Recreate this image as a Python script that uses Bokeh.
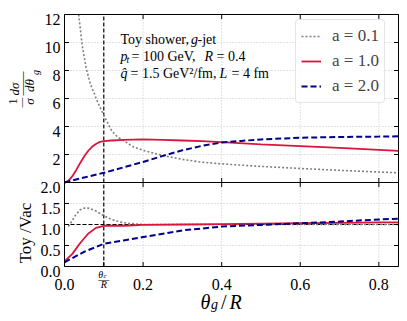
import numpy as np
from bokeh.plotting import figure
from bokeh.models import Range1d, Label, Legend, LegendItem
from bokeh.embed import file_html
from bokeh.resources import INLINE

# ---------------- data ----------------
# top panel: 1/sigma dsigma/dtheta_g
x_a01 = [0.036, 0.045, 0.055, 0.065, 0.075, 0.085, 0.10, 0.12, 0.135, 0.15, 0.175,
         0.20, 0.25, 0.30, 0.35, 0.40, 0.50, 0.60, 0.70, 0.80, 0.85]
y_a01 = [12.0, 9.8, 8.2, 7.1, 6.4, 5.7, 4.8, 3.7, 3.25, 3.0, 2.55,
         2.3, 1.93, 1.65, 1.45, 1.33, 1.15, 1.0, 0.87, 0.75, 0.69]

x_a10 = [0.0, 0.01, 0.02, 0.03, 0.04, 0.05, 0.06, 0.07, 0.08, 0.09, 0.10, 0.12, 0.15,
         0.20, 0.25, 0.30, 0.35, 0.40, 0.50, 0.60, 0.70, 0.80, 0.85]
y_a10 = [0.0, 0.12, 0.45, 0.9, 1.4, 1.85, 2.25, 2.55, 2.75, 2.9, 2.95, 3.0, 3.05,
         3.08, 3.05, 3.0, 2.95, 2.88, 2.72, 2.6, 2.47, 2.33, 2.26]

x_a20 = [0.0, 0.02, 0.05, 0.10, 0.15, 0.20, 0.25, 0.30, 0.35, 0.40, 0.45, 0.50,
         0.60, 0.70, 0.80, 0.85]
y_a20 = [0.0, 0.15, 0.36, 0.69, 1.08, 1.47, 1.9, 2.3, 2.62, 2.85, 2.97, 3.08,
         3.2, 3.25, 3.28, 3.3]

# bottom panel: Toy / Vac ratio
rx_a01 = [0.01, 0.02, 0.03, 0.04, 0.05, 0.06, 0.07, 0.08, 0.10, 0.12, 0.14, 0.16,
          0.20, 0.30, 0.40, 0.50, 0.60, 0.70, 0.80, 0.85]
ry_a01 = [0.95, 1.1, 1.25, 1.35, 1.39, 1.39, 1.36, 1.32, 1.21, 1.12, 1.06, 1.03,
          1.0, 1.0, 1.0, 1.0, 1.0, 1.0, 1.0, 1.0]

rx_a10 = [0.0, 0.02, 0.04, 0.06, 0.08, 0.10, 0.15, 0.20, 0.30, 0.40, 0.50, 0.60,
          0.70, 0.80, 0.85]
ry_a10 = [0.12, 0.3, 0.56, 0.78, 0.92, 0.97, 0.97, 0.99, 1.0, 1.01, 1.02, 1.03,
          1.04, 1.05, 1.05]

rx_a20 = [0.0, 0.02, 0.05, 0.10, 0.15, 0.20, 0.30, 0.40, 0.50, 0.60, 0.70, 0.80, 0.85]
ry_a20 = [0.1, 0.2, 0.35, 0.54, 0.62, 0.7, 0.86, 0.95, 0.99, 1.03, 1.07, 1.12, 1.14]

labels = ["a = 0.1", "a = 1.0", "a = 2.0"]
theta_c = 0.1
x_ticks = [0.0, 0.2, 0.4, 0.6, 0.8]
x_tick_labels = ["0.0", "0.2", "0.4", "0.6", "0.8"]
top_yticks = [2, 4, 6, 8, 10, 12]
top_ytick_labels = ["2", "4", "6", "8", "10", "12"]
bot_yticks = [0.0, 0.5, 1.0, 1.5, 2.0]
bot_ytick_labels = ["0.0", "0.5", "1.0", "1.5", "2.0"]
X_LIM = (0.0, 0.85)
TOP_LIM = (0.0, 12.0)
BOT_LIM = (0.0, 2.0)

# ---------------- layout (pixels of the 407x321 page) ----------------
W, H = 405, 319
PX_L, PX_R = 64.0, 398.0        # panel left/right
PY_T, PY_M, PY_B = 14.0, 182.0, 266.0   # top, middle, bottom of panels
SX = (X_LIM[1] - X_LIM[0]) / (PX_R - PX_L)
SB = (BOT_LIM[1] - BOT_LIM[0]) / (PY_B - PY_M)
ST = (TOP_LIM[1] - TOP_LIM[0]) / (PY_M - PY_T)


def fx(px):
    return X_LIM[0] + (px - PX_L) * SX


def fy(py):        # bottom-panel units
    return BOT_LIM[0] + (PY_B - py) * SB


def fyt(py):       # top-panel units
    return TOP_LIM[0] + (PY_M - py) * ST


SERIF = "Liberation Serif"
p = figure(width=W, height=H, x_range=Range1d(fx(0), fx(W)),
           y_range=Range1d(fy(H), fy(0)), output_backend="svg", toolbar_location=None,
           min_border=0, x_axis_location=None, y_axis_location=None)
p.extra_y_ranges = {"top": Range1d(fyt(H), fyt(0))}
p.grid.visible = False
p.outline_line_color = None
p.background_fill_color = "white"
p.border_fill_color = "white"

Y_BOT_TOP = fy(PY_T)   # top of the upper panel in bottom units

# ---------------- grids ----------------
gkw = dict(line_color="#b8b8b8", line_dash="1 2", line_width=0.8)
gx = [0.2, 0.4, 0.6, 0.8]
p.segment(x0=gx, y0=[BOT_LIM[0]] * len(gx), x1=gx, y1=[Y_BOT_TOP] * len(gx), **gkw)
gyb = [0.5, 1.0, 1.5]
p.segment(x0=[X_LIM[0]] * 3, y0=gyb, x1=[X_LIM[1]] * 3, y1=gyb, **gkw)
gyt = [2, 4, 6, 8, 10]
p.segment(x0=[X_LIM[0]] * 5, y0=gyt, x1=[X_LIM[1]] * 5, y1=gyt, y_range_name="top", **gkw)

# ---------------- reference lines ----------------
p.segment(x0=[theta_c], y0=[BOT_LIM[0]], x1=[theta_c], y1=[Y_BOT_TOP],
          line_color="black", line_dash="4 2", line_width=1.2)
p.segment(x0=[X_LIM[0]], y0=[1.0], x1=[X_LIM[1]], y1=[1.0],
          line_color="black", line_dash="4 2", line_width=1.2)

# ---------------- curves ----------------
GRAY, RED, BLUE = "#808080", "#dc143c", "#00008b"
r1 = p.line(x_a01, y_a01, y_range_name="top", line_color=GRAY, line_dash="2 2", line_width=1.6)
r2 = p.line(x_a10, y_a10, y_range_name="top", line_color=RED, line_width=1.8)
r3 = p.line(x_a20, y_a20, y_range_name="top", line_color=BLUE, line_dash="6 3", line_width=2)
p.line(rx_a01, ry_a01, line_color=GRAY, line_dash="2 2", line_width=1.6)
p.line(rx_a10, ry_a10, line_color=RED, line_width=1.8)
p.line(rx_a20, ry_a20, line_color=BLUE, line_dash="6 3", line_width=2)

# ---------------- panel frames ----------------
p.quad(left=[X_LIM[0]], right=[X_LIM[1]], bottom=[BOT_LIM[0]], top=[Y_BOT_TOP],
       fill_color=None, line_color="black", line_width=1)
p.segment(x0=[X_LIM[0]], y0=[BOT_LIM[1]], x1=[X_LIM[1]], y1=[BOT_LIM[1]],
          line_color="black", line_width=1)

# ---------------- ticks (inward) ----------------
TL = 4.5
tkw = dict(line_color="black", line_width=1)
xt_b = [theta_c] + x_ticks[1:]
p.segment(x0=xt_b, y0=[BOT_LIM[0]] * len(xt_b), x1=xt_b,
          y1=[BOT_LIM[0] + TL * SB] * len(xt_b), **tkw)
xt_m = x_ticks[1:]
p.segment(x0=xt_m, y0=[BOT_LIM[1] - TL * SB] * len(xt_m), x1=xt_m,
          y1=[BOT_LIM[1] + TL * SB] * len(xt_m), **tkw)
p.segment(x0=xt_m, y0=[Y_BOT_TOP] * len(xt_m), x1=xt_m,
          y1=[Y_BOT_TOP - TL * SB] * len(xt_m), **tkw)
for xe, sgn in ((X_LIM[0], 1), (X_LIM[1], -1)):
    p.segment(x0=[xe] * len(bot_yticks), y0=bot_yticks,
              x1=[xe + sgn * TL * SX] * len(bot_yticks), y1=bot_yticks, **tkw)
    p.segment(x0=[xe] * len(top_yticks), y0=top_yticks,
              x1=[xe + sgn * TL * SX] * len(top_yticks), y1=top_yticks,
              y_range_name="top", **tkw)

# ---------------- legend ----------------
legend = Legend(items=[LegendItem(label=labels[0], renderers=[r1]),
                       LegendItem(label=labels[1], renderers=[r2]),
                       LegendItem(label=labels[2], renderers=[r3])],
                location=(295, H - 103), label_text_font=SERIF, label_text_font_size="17px",
                glyph_width=20, glyph_height=20, label_standoff=11, padding=5, spacing=3,
                label_height=22, margin=0, border_line_color="#cccccc", border_line_width=1,
                background_fill_color="white", background_fill_alpha=0.85)
if "border_radius" in Legend.properties():
    legend.border_radius = 4
p.add_layout(legend)


# ---------------- texts ----------------
def lab(px, py, text, size, style="normal", align="left", baseline="alphabetic", angle=0.0):
    p.add_layout(Label(x=fx(px), y=fy(py), text=text, text_font=SERIF,
                       text_font_size=f"{size}px", text_font_style=style,
                       text_align=align, text_baseline=baseline, angle=angle,
                       text_color="black"))


def px_of_x(x):
    return PX_L + (x - X_LIM[0]) / SX


def py_of_b(y):
    return PY_B - (y - BOT_LIM[0]) / SB


def py_of_t(y):
    return PY_M - (y - TOP_LIM[0]) / ST


TK = 16
# y tick labels
for v, t in zip(bot_yticks, bot_ytick_labels):
    lab(60, py_of_b(v) + 5.3, t, TK, align="right")
for v, t in zip(top_yticks, top_ytick_labels):
    lab(60, py_of_t(v) + 5.3, t, TK, align="right")
# x tick labels
for v, t in zip(x_ticks, x_tick_labels):
    lab(px_of_x(v), 283.5, t, TK, align="center")

# special tick label theta_c / R
xc = px_of_x(theta_c)
lab(xc - 5.5, 273.5, "\u03b8", 10, "italic")
lab(xc - 0.2, 275, "c", 7, "italic")
lab(xc, 278.2, "\u2014", 11, align="center")
lab(xc, 284, "R", 10, "italic", align="center")

# annotation block
lab(120, 39.3, "Toy shower,", 14)
lab(190.5, 39.3, "g", 14, "italic")
lab(197, 39.3, "-jet", 14)
lab(120, 56, "p", 14, "italic")
lab(126, 58.5, "t", 10, "italic")
lab(131, 56, "= 100 GeV,", 14)
lab(204, 56, "R", 14, "italic")
lab(216, 56, "= 0.4", 14)
lab(120, 72.5, "q\u0302", 14, "italic")
lab(130, 72.5, "= 1.5 GeV\u00b2/fm,", 14)
lab(219, 72.5, "L", 14, "italic")
lab(231, 72.5, "= 4 fm", 14)

# x axis label  theta_g / R
lab(200, 301, "\u03b8", 20, "italic")
lab(210.5, 304, "g", 14, "italic")
lab(220.5, 301, "/", 20)
lab(229, 301, "R", 20, "italic")

# top y label  (1/sigma) dsigma/dtheta_g, rotated
rot = np.pi / 2
lab(12.5, 101, "1", 13, align="center", baseline="middle", angle=rot)
lab(29, 101, "\u03c3", 13, "italic", align="center", baseline="middle", angle=rot)
lab(21, 102, "\u2014", 10, align="center", baseline="middle", angle=rot)
lab(14, 88.5, "d\u03c3", 13, "italic", align="center", baseline="middle", angle=rot)
lab(28.5, 85, "d\u03b8", 13, "italic", align="center", baseline="middle", angle=rot)
lab(34.5, 72, "g", 10, "italic", align="center", baseline="middle", angle=rot)
lab(21, 83, "\u2014\u2014", 12, align="center", baseline="middle", angle=rot)

# bottom y label
lab(25, 232.5, "Toy /Vac", 17, align="center", baseline="middle", angle=rot)

open("out.html", "w").write(file_html(p, INLINE))
